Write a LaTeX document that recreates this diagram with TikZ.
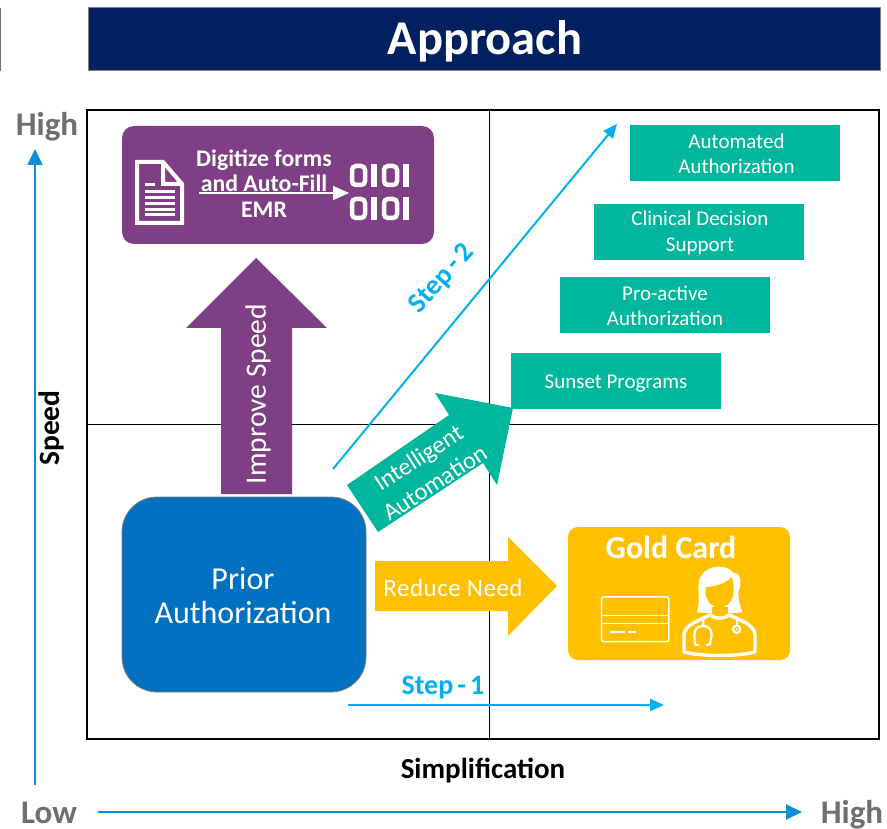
\documentclass[tikz,border=0pt]{standalone}
\usepackage{fontspec}
\setmainfont{Carlito}
\usetikzlibrary{arrows.meta}
\definecolor{navy}{HTML}{002060}
\definecolor{teal1}{HTML}{00B69C}
\definecolor{purp}{HTML}{7F3F84}
\definecolor{blu}{HTML}{0070C0}
\definecolor{gold}{HTML}{FFC000}
\definecolor{cyan1}{HTML}{00B0F0}
\definecolor{axisc}{HTML}{0F8FD8}
\definecolor{graytxt}{HTML}{6F6F6F}
\newcommand\dropby[2]{\raisebox{-#1}[\height][\depth]{#2}}
\tikzset{
  tealbox/.style={fill=teal1,draw=none,minimum width=210pt,minimum height=56pt,inner sep=0pt,text=white,font=\fontsize{21}{25.5}\selectfont,align=center},
  axisarrow/.style={draw=axisc,line width=2pt,-{Triangle[length=16pt,width=15pt]}},
  steparrow/.style={draw=cyan1,line width=2pt,-{Triangle[length=14pt,width=12pt]}},
  axislabel/.style={font=\fontsize{33}{33}\selectfont\bfseries,text=graytxt,inner sep=0pt},
  steplabel/.style={font=\fontsize{28}{28}\selectfont\bfseries,text=cyan1,inner sep=0pt},
  blocklabel/.style={text=white,inner sep=0pt,align=center},
  iconline/.style={draw=white,line width=1.5pt},
}
\begin{document}
\begin{tikzpicture}[x=1pt,y=-1pt]
\useasboundingbox (0,0) rectangle (887,829);
% header
\draw[draw=graytxt,line width=1pt] (0,8) -- (0,71);
\node[fill=navy,draw=gray,line width=0.8pt,minimum width=792pt,minimum height=63pt,inner sep=0pt,text=white,font=\fontsize{48.5}{48.5}\selectfont\bfseries] (title) at (484,39) {\dropby{2pt}{\hspace{2pt}Approach}};
% grid
\draw[line width=1.1pt] (87,110) rectangle (879,739);
\draw[line width=1pt] (489,110) -- (489,739);
\draw[line width=1pt] (87,424) -- (879,424);
% teal boxes
\node[tealbox] (auto) at (735,153) {\hspace{3pt}\dropby{.8pt}{Automated}\\\hspace{3pt}\dropby{.8pt}{Authorization}};
\node[tealbox] (clin) at (699,232) {\hspace{2pt}\dropby{.8pt}{Clinical Decision}\\\hspace{2pt}\dropby{.8pt}{Support}};
\node[tealbox] (pro) at (665,305) {\dropby{.8pt}{Pro-active}\\\dropby{.8pt}{Authorization}};
\node[tealbox] (sun) at (616,381) {\dropby{2.5pt}{Sunset Programs}};
% purple box
\fill[purp,rounded corners=12pt] (122,126) rectangle (434,244);
\coordinate (dfrom) at (199,193);
\coordinate (dto) at (349,193);
\node[blocklabel,font=\fontsize{23.8}{25.5}\selectfont\bfseries] (dig) at (264,183.5) {Digitize forms\\and Auto-Fill\\EMR};
\draw[white,line width=1.6pt,-{Triangle[length=16pt,width=14pt]}] (dfrom) -- (dto);
% document icon
\draw[white,line width=4pt,line join=miter] (137,162) -- (163,162) -- (182,184) -- (182,223) -- (137,223) -- cycle;
\fill[white] (161,162) -- (165,162) -- (165,182) -- (182,182) -- (182,186) -- (161,186) -- cycle;
\foreach \yy in {192,198,204,210,215}{\draw[white,line width=3pt] (145,\yy) -- (175,\yy);}
\draw[white,line width=3pt] (145,185) -- (155,185);
% binary icon
\foreach \yo in {166,199}{
  \draw[white,line width=4.5pt,rounded corners=4pt] (352,\yo) rectangle (365,\yo+19);
  \fill[white] (371,\yo-2.2) rectangle (376.5,\yo+21.2);
  \draw[white,line width=4.5pt,rounded corners=4pt] (384,\yo) rectangle (397,\yo+19);
  \fill[white] (403,\yo-2.2) rectangle (408.5,\yo+21.2);
}
% improve speed arrow
\fill[purp] (256,258) -- (327,328) -- (292,328) -- (292,494) -- (221,494) -- (221,328) -- (186,328) -- cycle;
\node[blocklabel,rotate=90,font=\fontsize{29.5}{29.5}\selectfont] (imp) at (258,394) {Improve Speed};
% step 2
\coordinate (s2a) at (333,469);
\coordinate (s2b) at (617,124);
\draw[steparrow] (s2a) -- (s2b);
\node[steplabel,rotate=48] (s2l) at (442,279) {{\spaceskip=0.15em Step - 2}};
% intelligent automation arrow
\fill[teal1] (347,485) -- (378,532) -- (483,463) -- (497,485) -- (513,408) -- (435,393) -- (449,415) -- cycle;
\node[blocklabel,rotate=33,font=\fontsize{24.5}{30}\selectfont] (ia) at (426.5,470) {Intelligent\\Automation};
% prior authorization
\node[fill=blu,draw=gray,line width=0.8pt,rounded corners=35pt,minimum width=244pt,minimum height=195pt,inner sep=0pt,text=white,align=center,font=\fontsize{32}{33.5}\selectfont] (pa) at (244,594.5) {\hspace{-2pt}\dropby{1pt}{Prior}\\\hspace{-2pt}\dropby{1pt}{Authorization}};
% reduce need
\fill[gold] (375,561) -- (508,561) -- (508,537) -- (557,586) -- (508,636) -- (508,611) -- (375,611) -- cycle;
\node[blocklabel,font=\fontsize{25}{25}\selectfont\addfontfeature{LetterSpace=2}] (rn) at (453,588) {Reduce Need};
% gold card
\fill[gold,rounded corners=10pt] (568,527) rectangle (790,660);
\node[blocklabel,font=\fontsize{32}{32}\selectfont\bfseries] (gc) at (671,547) {Gold Card};
\begin{scope}[shift={(560,520)},x=0.3333pt,y=-0.3333pt]
  \draw[iconline,rounded corners=2pt] (125,231) rectangle (327,365);
  \draw[iconline] (125,287) -- (327,287);
  \draw[iconline] (125,311) -- (327,311);
  \draw[iconline] (150,336) -- (195,336);
  \draw[iconline] (205,336) -- (228,336);
  % hair
  \fill[white] (410,277) .. controls (425,240) and (405,190) .. (425,165)
     .. controls (445,135) and (500,130) .. (522,160)
     .. controls (545,155) and (545,200) .. (535,215)
     .. controls (535,240) and (540,260) .. (548,277)
     -- (505,280) -- (455,280) -- cycle;
  % face
  \fill[gold] (437,202) .. controls (470,198) and (500,190) .. (515,170)
     .. controls (522,190) and (522,210) .. (520,225)
     .. controls (512,250) and (495,264) .. (478,264)
     .. controls (458,264) and (440,245) .. (437,222) -- cycle;
  % neck
  \fill[gold] (455,262) rectangle (503,284);
  % body
  \draw[white,line width=3.4pt,line cap=round,line join=round] (372,396) -- (372,345)
     .. controls (372,315) and (420,300) .. (450,285)
     .. controls (465,298) and (492,298) .. (507,285)
     .. controls (540,300) and (585,315) .. (585,345) -- (585,396)
     .. controls (530,410) and (425,410) .. (372,396) -- cycle;
  % stethoscope
  \draw[white,line width=2.2pt,line cap=round] (430,296) -- (430,318)
     .. controls (410,318) and (403,330) .. (403,345) -- (405,373) -- (415,375);
  \draw[white,line width=2.2pt,line cap=round] (430,318)
     .. controls (448,318) and (455,330) .. (455,345) -- (450,373) -- (440,375);
  \draw[white,line width=2.2pt] (530,296) -- (530,316);
  \draw[white,line width=2.2pt] (530,328) circle (11);
  \fill[white] (530,328) circle (3.5);
\end{scope}
% step 1
\coordinate (s1a) at (348,705);
\coordinate (s1b) at (664,705);
\draw[steparrow] (s1a) -- (s1b);
\node[steplabel] (s1l) at (443,688) {{\spaceskip=0.15em Step - 1}};
% axes
\coordinate (va) at (35,785);
\coordinate (vb) at (35,149);
\coordinate (ha) at (98,812);
\coordinate (hb) at (802,812);
\draw[axisarrow] (va) -- (vb);
\draw[axisarrow] (ha) -- (hb);
\node[axislabel] (h1) at (47,127) {High};
\node[axislabel] (l1) at (49,813) {Low};
\node[axislabel] (h2) at (852,815) {High};
\node[font=\fontsize{29.5}{29.5}\selectfont\bfseries,rotate=90,inner sep=0pt] (sp) at (51,428) {Speed};
\node[font=\fontsize{29}{29}\selectfont\bfseries,inner sep=0pt] (si) at (483,771) {Simplification};
\end{tikzpicture}
\end{document}
